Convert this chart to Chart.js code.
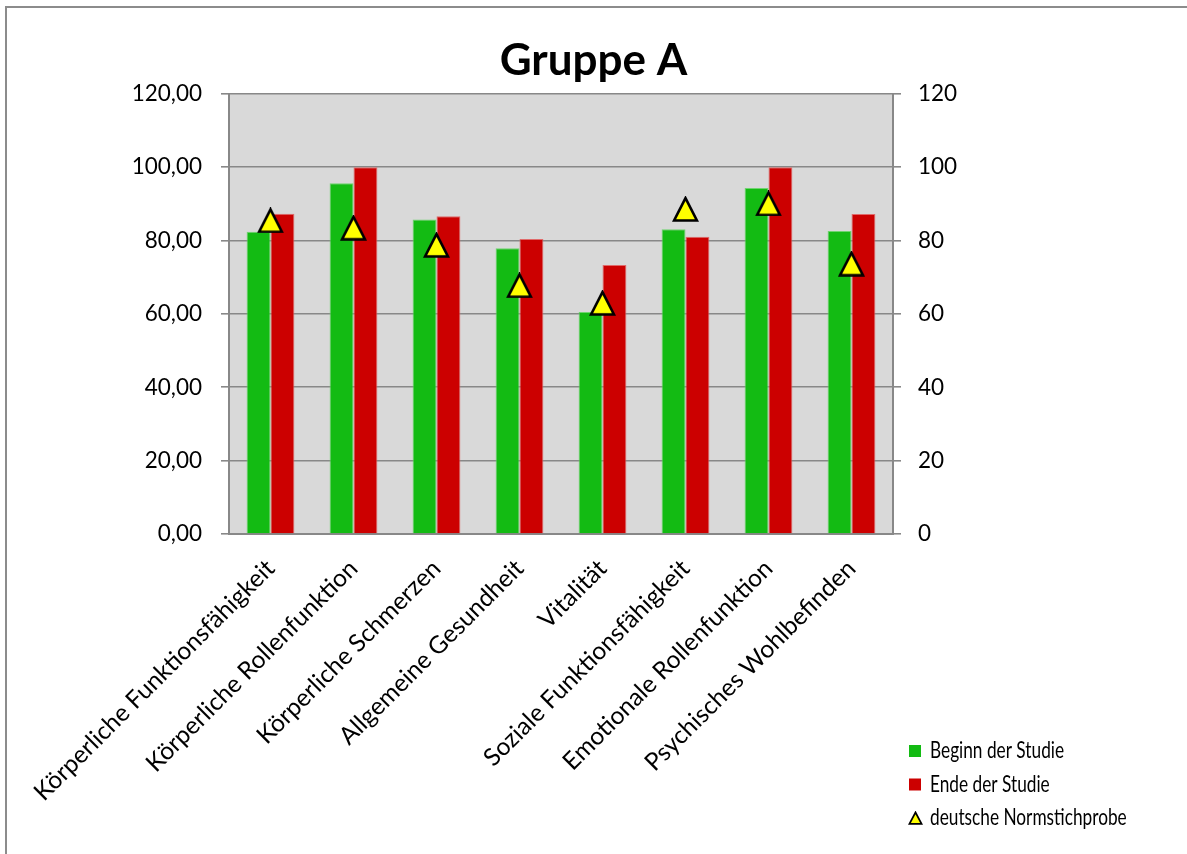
<!DOCTYPE html>
<html lang="de">
<head>
<meta charset="utf-8">
<title>Gruppe A</title>
<script src="https://cdn.jsdelivr.net/npm/chart.js@4/dist/chart.umd.min.js"></script>
<style>
  html, body { margin: 0; padding: 0; background: #ffffff; overflow: hidden; }
  #wrap { position: relative; width: 1187px; height: 854px; }
  #frame {
    position: absolute; left: 5px; top: 6px; width: 1200px; height: 870px;
    border-left: 2px solid #8c8c8c; border-top: 2px solid #8c8c8c;
    pointer-events: none;
  }
  canvas { position: absolute; left: 0; top: 0; }
</style>
</head>
<body>
<div id="wrap">
  <canvas id="chart" width="1187" height="854"></canvas>
  <div id="frame"></div>
</div>
<script>
// SF-36 subscales, group A
const categories = [
  'Körperliche Funktionsfähigkeit',
  'Körperliche Rollenfunktion',
  'Körperliche Schmerzen',
  'Allgemeine Gesundheit',
  'Vitalität',
  'Soziale Funktionsfähigkeit',
  'Emotionale Rollenfunktion',
  'Psychisches Wohlbefinden'
];
const beginnDerStudie = [82.4, 95.6, 85.7, 77.9, 60.5, 83.1, 94.3, 82.6];
const endeDerStudie   = [87.3, 100.0, 86.6, 80.4, 73.3, 81.0, 100.0, 87.2];
const normstichprobe  = [85.5, 83.5, 78.8, 67.8, 63.0, 88.6, 90.1, 73.7];
const seriesNames = ['Beginn der Studie', 'Ende der Studie', 'deutsche Normstichprobe'];
const axisTicks = [0, 20, 40, 60, 80, 100, 120];

const FONT = 'Lato, "Open Sans", "DejaVu Sans", sans-serif';

// Triangle marker: yellow fill, black outline, drawn centred on its bounding box
function triangleMarker(w, h, lw) {
  const c = document.createElement('canvas');
  c.width = w; c.height = h;
  const g = c.getContext('2d');
  g.lineJoin = 'miter';
  g.lineWidth = lw;
  g.beginPath();
  g.moveTo(w / 2, lw * 0.8);
  g.lineTo(w - lw * 0.8, h - lw * 0.6);
  g.lineTo(lw * 0.8, h - lw * 0.6);
  g.closePath();
  g.fillStyle = '#ffff00';
  g.fill();
  g.strokeStyle = '#000000';
  g.stroke();
  return c;
}
const bigTriangle = triangleMarker(27, 26, 2.6);
const smallTriangle = triangleMarker(15, 14, 1.8);

// Grey plot background behind the bars
const plotBackground = {
  id: 'plotBackground',
  beforeDraw(chart) {
    const { ctx, chartArea: a } = chart;
    ctx.save();
    ctx.fillStyle = '#d9d9d9';
    ctx.fillRect(a.left, a.top, a.right - a.left, a.bottom - a.top);
    ctx.restore();
  }
};

// Compact legend in the lower right corner, in series order
const cornerLegend = {
  id: 'cornerLegend',
  afterDraw(chart) {
    const ctx = chart.ctx;
    const x0 = 909, y0 = 751, step = 33.5;
    ctx.save();
    chart.data.datasets.forEach((ds, i) => {
      const cy = y0 + i * step;
      if (ds.type === 'line') {
        ctx.drawImage(smallTriangle, x0 - 1, cy - 7);
      } else {
        ctx.fillStyle = ds.backgroundColor;
        ctx.fillRect(x0, cy - 6, 12, 12);
      }
      ctx.font = '23px ' + FONT;
      ctx.fillStyle = '#000000';
      ctx.textBaseline = 'middle';
      ctx.textAlign = 'left';
      ctx.translate(x0 + 21, cy);
      ctx.scale(0.75, 1);
      ctx.fillText(ds.label, 0, 0);
      ctx.setTransform(1, 0, 0, 1, 0, 0);
    });
    ctx.restore();
  }
};

Chart.defaults.color = '#000000';
Chart.defaults.font.family = FONT;

new Chart(document.getElementById('chart'), {
  type: 'bar',
  data: {
    labels: categories,
    datasets: [
      {
        label: seriesNames[0],
        data: beginnDerStudie,
        yAxisID: 'y',
        backgroundColor: '#13bb13',
        borderColor: '#6fd46f',
        borderWidth: 1,
        order: 1
      },
      {
        label: seriesNames[1],
        data: endeDerStudie,
        yAxisID: 'y',
        backgroundColor: '#cc0000',
        borderColor: '#e06a6a',
        borderWidth: 1,
        order: 1
      },
      {
        type: 'line',
        label: seriesNames[2],
        data: normstichprobe,
        yAxisID: 'y1',
        showLine: false,
        pointStyle: bigTriangle,
        pointRadius: 13,
        pointHoverRadius: 13,
        order: 0
      }
    ]
  },
  options: {
    responsive: false,
    animation: false,
    devicePixelRatio: 1,
    layout: { padding: 0 },
    datasets: {
      bar: { categoryPercentage: 0.576, barPercentage: 1.0 }
    },
    plugins: {
      legend: { display: false },
      tooltip: { enabled: false },
      title: {
        display: true,
        text: 'Gruppe A',
        color: '#000000',
        font: { family: FONT, size: 44, weight: 'bold', lineHeight: 1.2 },
        padding: { top: 34, bottom: 7 }
      }
    },
    scales: {
      x: {
        grid: { display: false, drawTicks: false },
        border: { display: true, color: '#888888', width: 2 },
        ticks: {
          autoSkip: false,
          minRotation: 45,
          maxRotation: 45,
          padding: 20,
          font: { family: FONT, size: 24.5 },
          color: '#000000'
        },
        afterFit(scale) { scale.height = 320; }
      },
      y: {
        position: 'left',
        min: 0,
        max: 120,
        afterBuildTicks(scale) { scale.ticks = axisTicks.map(v => ({ value: v })); },
        grid: { color: '#888888', lineWidth: 1.6, tickLength: 8, drawTicks: true },
        border: { display: true, color: '#888888', width: 2 },
        ticks: {
          padding: 19,
          font: { family: FONT, size: 22.5 },
          color: '#000000',
          callback: v => v.toFixed(2).replace('.', ',')
        },
        afterFit(scale) { scale.width = 229; }
      },
      y1: {
        position: 'right',
        min: 0,
        max: 120,
        afterBuildTicks(scale) { scale.ticks = axisTicks.map(v => ({ value: v })); },
        grid: { drawOnChartArea: false, color: '#888888', lineWidth: 1.6, tickLength: 8, drawTicks: true },
        border: { display: true, color: '#888888', width: 2 },
        ticks: {
          padding: 17,
          font: { family: FONT, size: 22.5 },
          color: '#000000',
          callback: v => String(v)
        },
        afterFit(scale) { scale.width = 294; }
      }
    }
  },
  plugins: [plotBackground, cornerLegend]
});
</script>
</body>
</html>
